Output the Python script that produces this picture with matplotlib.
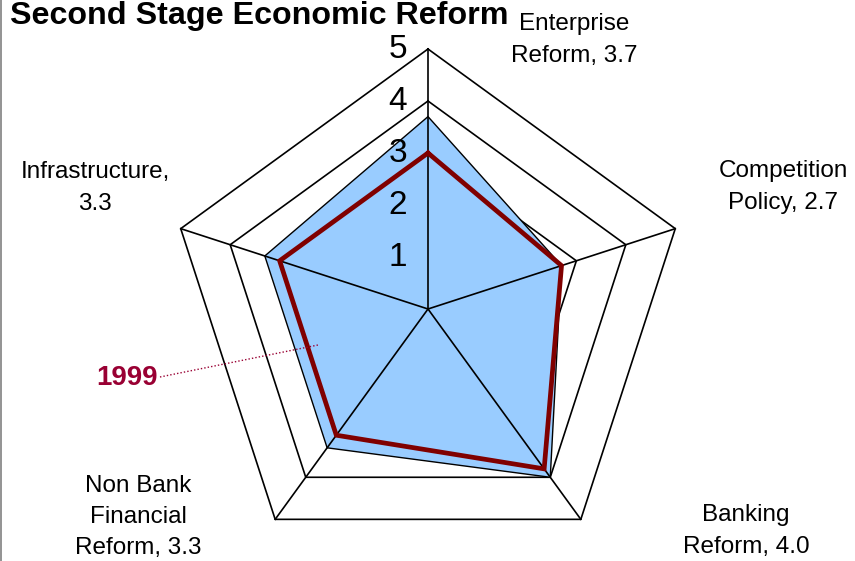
import numpy as np
import matplotlib.pyplot as plt
from matplotlib.lines import Line2D

plt.rcParams['font.family'] = ['Liberation Sans', 'DejaVu Sans']

categories = ['Enterprise\nReform', 'Competition\nPolicy', 'Banking\nReform',
              'Non Bank\nFinancial\nReform', 'Infrastructure']
current = [3.7, 2.7, 4.0, 3.3, 3.3]
y1999 = [3.0, 2.7, 3.8, 3.0, 3.0]
rings = [1, 2, 3, 4, 5]
seps = [', ', ', ', ', ', ', ', ',\n']

# pixel geometry of the reference
W, H = 855, 561
cx, cy, unit = 428, 309, 52.0

def px(x, y):
    return (x - cx) / unit, (cy - y) / unit

n = len(categories)
theta = np.deg2rad(90 - 72 * np.arange(n))

def xy(r):
    r = np.asarray(r, dtype=float)
    x = r * np.cos(theta)
    y = r * np.sin(theta)
    return np.append(x, x[0]), np.append(y, y[0])

fig = plt.figure(figsize=(W / 100, H / 100), dpi=100)
ax = fig.add_axes([0, 0, 1, 1])
ax.set_xlim(-cx / unit, (W - cx) / unit)
ax.set_ylim(-(H - cy) / unit, cy / unit)
ax.axis('off')

# grid pentagons
for r in rings:
    gx, gy = xy([r] * n)
    ax.plot(gx, gy, color='black', lw=1.2, zorder=1)

# current values area
fx, fy = xy(current)
ax.fill(fx, fy, facecolor='#99CCFF', edgecolor='black', lw=1.0, zorder=2)

# spokes
for t in theta:
    ax.plot([0, max(rings) * np.cos(t)], [0, max(rings) * np.sin(t)],
            color='black', lw=1.2, zorder=3)

# 1999 line
lx, ly = xy(y1999)
ax.plot(lx, ly, color='#800000', lw=3.4, zorder=4, solid_joinstyle='miter')

# radial tick labels
for r in rings:
    ax.text(-30 / unit, r, str(r), fontsize=24, ha='center', va='center', zorder=5)

# category labels
label_pos = [(574, 40), (783, 187), (746, 531), (138, 517), (95, 188)]
for name, v, s, (lx0, ly0) in zip(categories, current, seps, label_pos):
    x, y = px(lx0, ly0)
    ax.text(x, y, f'{name}{s}{v:.1f}', fontsize=17.5, ha='center', va='center',
            linespacing=1.55)

# 1999 callout
x0, y0 = px(160, 377)
x1, y1 = px(318, 345)
ax.plot([x0, x1], [y0, y1], color='#990033', lw=1.0, ls=(0, (1, 1.5)), zorder=6)
tx, ty = px(127, 378)
ax.text(tx, ty, '1999', color='#990033', fontsize=20, fontweight='bold',
        ha='center', va='center')

# title
tx, ty = px(10, 16)
ax.text(tx, ty, 'Second Stage Economic Reform', fontsize=23.2, fontweight='bold',
        ha='left', va='center')

fig.add_artist(Line2D([0.0008, 0.0008], [0, 1], color='#808080', lw=1.2))

fig.savefig('out.png', dpi=100)
